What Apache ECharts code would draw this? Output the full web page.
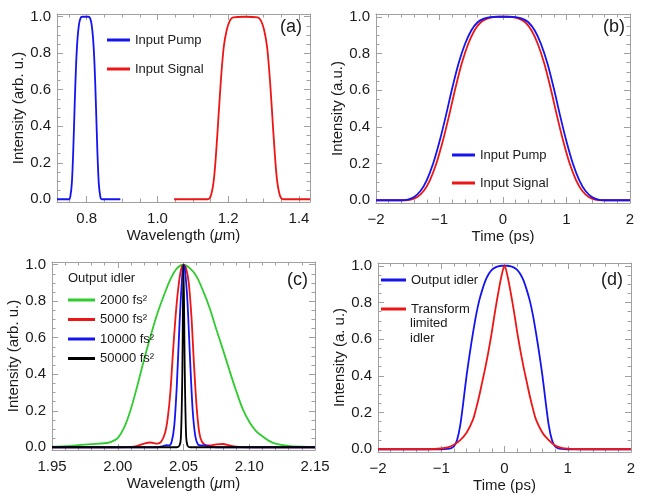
<!DOCTYPE html>
<html><head><meta charset="utf-8">
<script src="https://cdn.jsdelivr.net/npm/echarts/dist/echarts.min.js"></script>
<style>html,body{margin:0;padding:0;background:#fff}#c{width:656px;height:496px}</style>
</head><body><div id="c"></div>
<script>
// ---------- data ----------
// (a) spectra vs wavelength (um)
const aPumpWl = [0.716, 0.750, 0.754, 0.758, 0.762, 0.766, 0.770, 0.774, 0.778, 0.782, 0.787, 0.796, 0.805, 0.810, 0.814, 0.818, 0.822, 0.826, 0.830, 0.834, 0.838, 0.842, 0.895];
const aPumpI  = [0, 0, 0.02, 0.09, 0.27, 0.52, 0.74, 0.88, 0.955, 0.99, 1.0, 1.0, 1.0, 0.99, 0.955, 0.88, 0.74, 0.52, 0.27, 0.09, 0.02, 0, 0];
const aSignalWl = [1.047, 1.142, 1.151, 1.160, 1.169, 1.178, 1.187, 1.196, 1.205, 1.214, 1.248, 1.283, 1.292, 1.301, 1.310, 1.319, 1.328, 1.337, 1.346, 1.355, 1.431];
const aSignalI  = [0, 0, 0.02, 0.12, 0.35, 0.62, 0.83, 0.93, 0.98, 0.997, 1.0, 0.997, 0.98, 0.93, 0.83, 0.62, 0.35, 0.12, 0.02, 0, 0];
// (b) temporal profiles (ps)
const bPumpT = [-2, -1.6, -1.5, -1.4, -1.3, -1.2, -1.1, -1.0, -0.9, -0.8, -0.7, -0.6, -0.5, -0.4, -0.3, -0.2, -0.1, 0, 0.1, 0.2, 0.3, 0.4, 0.5, 0.6, 0.7, 0.8, 0.9, 1.0, 1.1, 1.2, 1.3, 1.4, 1.5, 1.6, 2];
const bPumpI = [0, 0, 0.004, 0.018, 0.05, 0.11, 0.20, 0.32, 0.46, 0.61, 0.745, 0.85, 0.925, 0.97, 0.99, 0.998, 1.0, 1.0, 1.0, 0.998, 0.99, 0.97, 0.925, 0.85, 0.745, 0.61, 0.46, 0.32, 0.20, 0.11, 0.05, 0.018, 0.004, 0, 0];
const bSignalT = [-2, -1.55, -1.45, -1.35, -1.25, -1.15, -1.05, -0.95, -0.85, -0.75, -0.65, -0.55, -0.45, -0.35, -0.25, -0.15, -0.05, 0, 0.05, 0.15, 0.25, 0.35, 0.45, 0.55, 0.65, 0.75, 0.85, 0.95, 1.05, 1.15, 1.25, 1.35, 1.45, 1.55, 2];
const bSignalI = [0, 0, 0.004, 0.018, 0.05, 0.11, 0.20, 0.32, 0.46, 0.61, 0.745, 0.85, 0.925, 0.97, 0.99, 0.998, 1.0, 1.0, 1.0, 0.998, 0.99, 0.97, 0.925, 0.85, 0.745, 0.61, 0.46, 0.32, 0.20, 0.11, 0.05, 0.018, 0.004, 0, 0];
// (c) output idler spectra for several dispersions
const cGreenWl = [1.95, 1.96, 1.97, 1.98, 1.99, 1.995, 2.00, 2.005, 2.01, 2.015, 2.02, 2.025, 2.03, 2.035, 2.04, 2.045, 2.05, 2.055, 2.06, 2.065, 2.07, 2.075, 2.08, 2.085, 2.09, 2.095, 2.10, 2.105, 2.11, 2.115, 2.12, 2.13, 2.14, 2.15];
const cGreenI  = [0.003, 0.006, 0.012, 0.017, 0.022, 0.03, 0.05, 0.11, 0.21, 0.34, 0.48, 0.61, 0.73, 0.83, 0.92, 0.98, 1.0, 0.98, 0.935, 0.855, 0.76, 0.645, 0.535, 0.42, 0.31, 0.21, 0.14, 0.09, 0.06, 0.035, 0.02, 0.008, 0.003, 0];
const cRedWl = [1.95, 2.00, 2.01, 2.015, 2.02, 2.025, 2.03, 2.033, 2.036, 2.038, 2.040, 2.042, 2.044, 2.046, 2.048, 2.050, 2.052, 2.054, 2.056, 2.058, 2.060, 2.062, 2.064, 2.067, 2.070, 2.075, 2.080, 2.085, 2.090, 2.100, 2.15];
const cRedI  = [0, 0, 0.002, 0.008, 0.02, 0.026, 0.02, 0.03, 0.08, 0.16, 0.30, 0.52, 0.72, 0.87, 0.97, 1.0, 0.98, 0.90, 0.72, 0.45, 0.22, 0.08, 0.03, 0.012, 0.01, 0.016, 0.018, 0.01, 0.003, 0, 0];
const cBlueWl = [1.95, 2.030, 2.034, 2.037, 2.039, 2.041, 2.043, 2.045, 2.047, 2.049, 2.050, 2.051, 2.053, 2.055, 2.057, 2.059, 2.061, 2.063, 2.066, 2.070, 2.075, 2.15];
const cBlueI  = [0, 0, 0.005, 0.012, 0.01, 0.03, 0.12, 0.35, 0.68, 0.94, 1.0, 0.98, 0.80, 0.48, 0.20, 0.06, 0.015, 0.01, 0.01, 0.003, 0, 0];
const cBlackWl = [1.95, 2.045, 2.047, 2.048, 2.049, 2.050, 2.051, 2.052, 2.053, 2.055, 2.15];
const cBlackI  = [0, 0, 0.01, 0.05, 0.35, 1.0, 0.40, 0.06, 0.01, 0, 0];
// (d) output idler vs transform limited idler (ps)
const dIdlerT = [-2, -1.0, -0.9, -0.85, -0.8, -0.75, -0.7, -0.65, -0.6, -0.55, -0.5, -0.45, -0.4, -0.35, -0.3, -0.25, -0.2, -0.15, -0.1, -0.05, 0, 0.05, 0.1, 0.15, 0.2, 0.25, 0.3, 0.35, 0.4, 0.45, 0.5, 0.55, 0.6, 0.65, 0.7, 0.75, 0.8, 0.85, 0.9, 1.0, 2];
const dIdlerI = [0, 0, 0.002, 0.005, 0.015, 0.05, 0.13, 0.26, 0.40, 0.52, 0.63, 0.73, 0.81, 0.87, 0.92, 0.955, 0.978, 0.99, 0.997, 1.0, 1.0, 1.0, 0.997, 0.99, 0.978, 0.955, 0.92, 0.87, 0.81, 0.73, 0.63, 0.52, 0.40, 0.26, 0.13, 0.05, 0.015, 0.005, 0.002, 0, 0];
const dTlT = [-2, -1.2, -1.0, -0.9, -0.8, -0.7, -0.6, -0.5, -0.45, -0.4, -0.35, -0.3, -0.25, -0.2, -0.15, -0.1, -0.05, 0, 0.05, 0.1, 0.15, 0.2, 0.25, 0.3, 0.35, 0.4, 0.45, 0.5, 0.6, 0.7, 0.8, 0.9, 1.0, 1.2, 2];
const dTlI = [0, 0, 0.004, 0.01, 0.025, 0.05, 0.09, 0.16, 0.22, 0.29, 0.37, 0.45, 0.54, 0.64, 0.75, 0.85, 0.94, 1.0, 0.94, 0.85, 0.75, 0.64, 0.54, 0.45, 0.37, 0.29, 0.22, 0.16, 0.09, 0.05, 0.02, 0.008, 0.003, 0, 0];

// ---------- axis ranges and tick labels ----------
const aXRange = [0.716, 1.431];
const tXRange = [-2, 2];
const cXRange = [1.95, 2.15];
const yRange = [-0.015, 1.015];
const yMajor = [0, 0.2, 0.4, 0.6, 0.8, 1.0];
const yMinor = [0.05, 0.1, 0.15, 0.25, 0.3, 0.35, 0.45, 0.5, 0.55, 0.65, 0.7, 0.75, 0.85, 0.9, 0.95];
const aXMajor = [0.8, 1.0, 1.2, 1.4];
const aXMinor = [0.75, 0.85, 0.9, 0.95, 1.05, 1.1, 1.15, 1.25, 1.3, 1.35];
const tXMajor = [-2, -1, 0, 1, 2];
const tXMinor = [-1.8, -1.6, -1.4, -1.2, -0.8, -0.6, -0.4, -0.2, 0.2, 0.4, 0.6, 0.8, 1.2, 1.4, 1.6, 1.8];
const cXMajor = [1.95, 2.00, 2.05, 2.10, 2.15];
const cXMinor = [1.96, 1.97, 1.98, 1.99, 2.01, 2.02, 2.03, 2.04, 2.06, 2.07, 2.08, 2.09, 2.11, 2.12, 2.13, 2.14];

const legendA = ['Input Pump', 'Input Signal'];
const legendC = ['2000 fs\u00b2', '5000 fs\u00b2', '10000 fs\u00b2', '50000 fs\u00b2'];
const legendD = ['Output idler', 'Transform limited idler'];

// ---------- styles ----------
const FONT = '"Liberation Sans", Arial, Helvetica, sans-serif';
const FRAME = '#a0a0a0';
const TXT = '#1a1a1a';
const BLUE = '#1414f0', RED = '#ee1515', GREEN = '#2ecc2e', BLACK = '#000000';

const zip = (xs, ys) => xs.map((x, i) => [x, ys[i]]);
const f1 = v => v.toFixed(1);
const f2 = v => v.toFixed(2);
const fInt = v => (v < 0 ? '\u2212' + Math.abs(v) : String(v));

function axisSet(dim, grid, range, major, minor, fmt, name, nameGap, rich) {
  const isX = dim === 'x';
  const posA = isX ? 'bottom' : 'left', posB = isX ? 'top' : 'right';
  const mk = (pos, vals, len, showLine, showLabel) => ({
    type: 'value', gridIndex: grid, min: range[0], max: range[1], position: pos,
    splitLine: {show: false},
    axisLine: {show: showLine, onZero: false, lineStyle: {color: FRAME, width: 1}},
    axisTick: {show: true, inside: true, length: len, customValues: vals, lineStyle: {color: FRAME, width: 1}},
    axisLabel: showLabel ? {show: true, customValues: major, formatter: fmt, margin: isX ? 9 : 6,
      color: TXT, fontSize: 15, fontFamily: FONT} : {show: false},
    name: showLabel ? name : '',
    nameLocation: 'middle', nameGap: nameGap,
    nameTextStyle: {color: TXT, fontSize: 15, fontFamily: FONT, rich: rich || {}}
  });
  return [mk(posA, major, 6, true, true), mk(posA, minor, 3.5, false, false),
          mk(posB, major, 6, true, false), mk(posB, minor, 3.5, false, false)];
}

const muRich = {i: {fontStyle: 'italic', fontSize: 15, fontFamily: FONT, color: TXT}};

const xAxes = [].concat(
  axisSet('x', 0, aXRange, aXMajor, aXMinor, f1, 'Wavelength ({i|\u03bc}m)', 26, muRich),
  axisSet('x', 1, tXRange, tXMajor, tXMinor, fInt, 'Time (ps)', 26),
  axisSet('x', 2, cXRange, cXMajor, cXMinor, f2, 'Wavelength ({i|\u03bc}m)', 26, muRich),
  axisSet('x', 3, tXRange, tXMajor, tXMinor, fInt, 'Time (ps)', 26)
);
const yAxes = [].concat(
  axisSet('y', 0, yRange, yMajor, yMinor, f1, 'Intensity (arb. u.)', 28),
  axisSet('y', 1, yRange, yMajor, yMinor, f1, 'Intensity (a.u.)', 28),
  axisSet('y', 2, yRange, yMajor, yMinor, f1, 'Intensity (arb. u.)', 28),
  axisSet('y', 3, yRange, yMajor, yMinor, f1, 'Intensity (a. u.)', 28)
);

function line(name, g, xs, ys, color, z) {
  return {
    type: 'line', name: name, xAxisIndex: 4 * g, yAxisIndex: 4 * g,
    data: zip(xs, ys), showSymbol: false, symbol: 'none', smooth: 0.3,
    lineStyle: {color: color, width: 1.8}, itemStyle: {color: color},
    z: z || 2, animation: false, clip: true
  };
}

const series = [
  line(legendA[0], 0, aPumpWl, aPumpI, BLUE),
  line(legendA[1], 0, aSignalWl, aSignalI, RED),
  line(legendA[1], 1, bSignalT, bSignalI, RED, 2),
  line(legendA[0], 1, bPumpT, bPumpI, BLUE, 3),
  line(legendC[0], 2, cGreenWl, cGreenI, GREEN, 2),
  line(legendC[1], 2, cRedWl, cRedI, RED, 3),
  line(legendC[2], 2, cBlueWl, cBlueI, BLUE, 4),
  line(legendC[3], 2, cBlackWl, cBlackI, BLACK, 5),
  line(legendD[0], 3, dIdlerT, dIdlerI, BLUE, 2),
  line(legendD[1], 3, dTlT, dTlI, RED, 3)
];

const legTxt = {color: TXT, fontSize: 13, fontFamily: FONT, lineHeight: 16};
const legBase = {orient: 'vertical', icon: 'rect', itemHeight: 3, padding: 0, selectedMode: false, textStyle: legTxt};
const panelTxt = {fontSize: 18, fontWeight: 'normal', color: TXT, fontFamily: FONT};

const option = {
  animation: false,
  backgroundColor: '#ffffff',
  grid: [
    {left: 57, top: 14, width: 253, height: 188},
    {left: 376, top: 14, width: 254, height: 189},
    {left: 52, top: 262, width: 263, height: 188},
    {left: 378, top: 263, width: 253, height: 189}
  ],
  xAxis: xAxes,
  yAxis: yAxes,
  series: series,
  title: [
    {text: '(a)', left: 280, top: 18, padding: 0, textStyle: panelTxt},
    {text: '(b)', left: 603, top: 18, padding: 0, textStyle: panelTxt},
    {text: '(c)', left: 287, top: 271, padding: 0, textStyle: panelTxt},
    {text: '(d)', left: 601, top: 271, padding: 0, textStyle: panelTxt},
    {text: 'Output idler', left: 68, top: 272, padding: 0, textStyle: {fontSize: 13, fontWeight: 'normal', color: TXT, fontFamily: FONT}}
  ],
  legend: [
    Object.assign({}, legBase, {data: legendA, left: 107, top: 32, itemWidth: 23, itemGap: 13}),
    Object.assign({}, legBase, {data: legendA, left: 452, top: 147, itemWidth: 23, itemGap: 12}),
    Object.assign({}, legBase, {data: legendC, left: 68, top: 292, itemWidth: 27, itemGap: 3.5}),
    Object.assign({}, legBase, {data: legendD, left: 381, top: 272, itemWidth: 25, itemGap: 13,
      formatter: n => (n === legendD[1] ? 'Transform' : n)})
  ],
  graphic: [
    {type: 'text', left: 410, top: 317, style: {text: 'limited', font: '13px ' + FONT, fill: TXT}},
    {type: 'text', left: 410, top: 332, style: {text: 'idler', font: '13px ' + FONT, fill: TXT}}
  ]
};

const chart = echarts.init(document.getElementById('c'), null, {renderer: 'canvas'});
chart.setOption(option);
</script>
</body></html>
